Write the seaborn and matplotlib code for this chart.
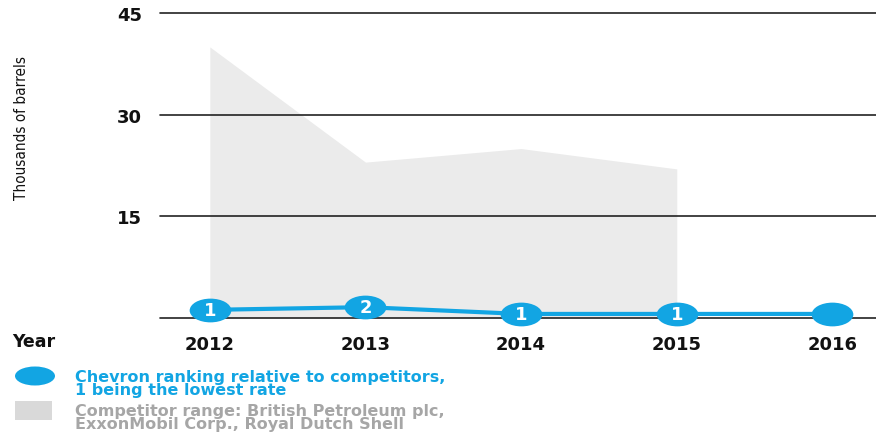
import matplotlib
matplotlib.use("Agg")
import matplotlib.pyplot as plt
from matplotlib.patches import Ellipse, Rectangle
from matplotlib.path import Path
from matplotlib.transforms import Affine2D
import seaborn as sns
import pandas as pd

years = [2012, 2013, 2014, 2015, 2016]
competitor_years = [2012, 2013, 2014, 2015]
competitor_high = [40, 23, 25, 22]
chevron_values = [1.2, 1.6, 0.6, 0.6, 0.6]
chevron_rank = ["1", "2", "1", "1", ""]
y_ticks = [15, 30, 45]
legend_blue = "Chevron ranking relative to competitors,\n1 being the lowest rate"
legend_gray = "Competitor range: British Petroleum plc,\nExxonMobil Corp., Royal Dutch Shell"

BLUE = "#12a5e3"
GRAY = "#ebebeb"

sns.set_theme(style="white")
plt.rcParams['font.family'] = ['DejaVu Sans']

fig = plt.figure(figsize=(8.76, 4.39), dpi=100)
ax = fig.add_axes([160/876, 1 - 319/439, 1 - 160/876, (319 - 14)/439])

ax.fill_between(competitor_years, 0, competitor_high, color=GRAY, linewidth=0, zorder=1)

for t in y_ticks:
    ax.axhline(t, color="#222222", lw=1.2, zorder=2)
ax.axhline(0, color="#222222", lw=1.2, zorder=2)

df = pd.DataFrame({"year": years, "value": chevron_values})
sns.lineplot(data=df, x="year", y="value", ax=ax, color=BLUE, lw=3, zorder=3)
for line in ax.lines:
    line.set_clip_on(False)

ax.set_xlim(2011.68, 2016.28)
ax.set_ylim(0, 45)

ellipse_marker = Path.unit_circle().transformed(Affine2D().scale(1.0, 0.57))
ax.plot(years, chevron_values, linestyle="none", marker=ellipse_marker, markersize=30,
        color=BLUE, markeredgewidth=0, zorder=4, clip_on=False)
for x, v, r in zip(years, chevron_values, chevron_rank):
    if r:
        ax.text(x, v, r, color="white", fontsize=13, fontweight="bold",
                ha="center", va="center", zorder=5)

ax.set_xticks(years)
ax.set_xticklabels([str(y) for y in years], fontsize=13, fontweight="bold", color="#111111")
ax.set_yticks(y_ticks)
ax.set_yticklabels([str(t) for t in y_ticks], fontsize=13, fontweight="bold", color="#111111")
ax.tick_params(axis="x", length=0, pad=12)
ax.tick_params(axis="y", length=0, pad=13)
for s in ax.spines.values():
    s.set_visible(False)
ax.set_xlabel("")
ax.set_ylabel("")

fig.text(12/876, 1 - 342/439, "Year", fontsize=12.5, fontweight="bold", color="#111111",
         ha="left", va="center")
fig.text(22/876, 1 - 128/439, "Thousands of barrels", rotation=90, fontsize=11,
         family=["DejaVu Sans"], fontstretch="condensed", ha="center", va="center",
         color="#111111")

# legend
fig.patches.append(Ellipse((35/876, 1 - 377/439), 40/876, 19/439, transform=fig.transFigure,
                           facecolor=BLUE, edgecolor="none"))
fig.patches.append(Rectangle((15/876, 1 - 421/439), 37/876, 19/439, transform=fig.transFigure,
                             facecolor="#d9d9d9", edgecolor="none"))
fig.text(75/876, 1 - 384/439, legend_blue, fontsize=11.5, fontweight="bold", color=BLUE,
         ha="left", va="center", linespacing=0.85)
fig.text(75/876, 1 - 418/439, legend_gray, fontsize=11.5, fontweight="bold", color="#a6a6a6",
         ha="left", va="center", linespacing=0.85)

fig.savefig("out.png", dpi=100)
